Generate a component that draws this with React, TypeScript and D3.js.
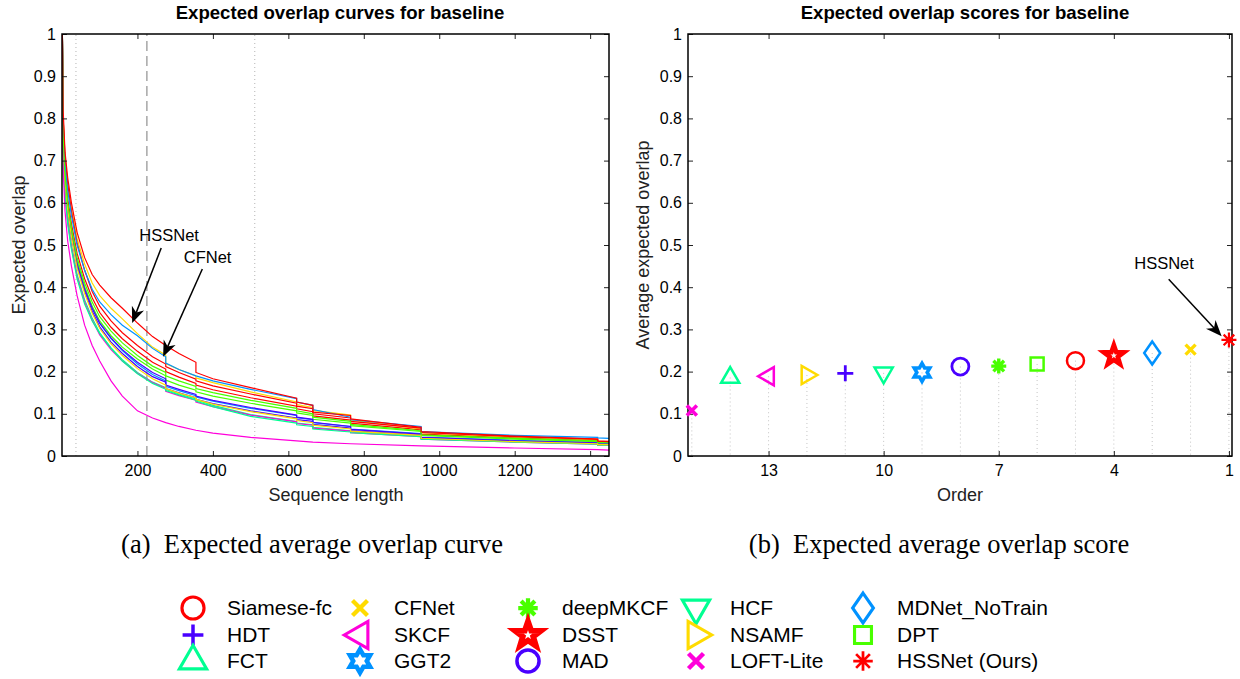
import React, { useEffect, useRef } from 'react'
import * as d3 from 'd3'

// trackers, in legend order (column major, 3 rows)
const trackers = ['Siamese-fc', 'HDT', 'FCT', 'CFNet', 'SKCF', 'GGT2', 'deepMKCF', 'DSST', 'MAD', 'HCF', 'NSAMF', 'LOFT-Lite', 'MDNet_NoTrain', 'DPT', 'HSSNet (Ours)']
const trackerColors = ['#ff0000', '#4900ff', '#00ff92', '#ffdb00', '#ff00db', '#0092ff', '#49ff00', '#ff0000', '#4900ff', '#00ff92', '#ffdb00', '#ff00db', '#0092ff', '#49ff00', '#ff0000']
const trackerMarkers = ['o', '+', '^', 'x', '<', 'h', '*', 'p', 'o', 'v', '>', 'x', 'd', 's', '*']
const markerWidths = [2.5, 2.8, 2.5, 3.4, 2.5, 3.6, 3.4, 4.6, 2.8, 2.5, 2.5, 3.6, 2.5, 2.5, 2.2]

// expected average overlap score and rank (right plot)
const eaoScores = [0.226, 0.196, 0.186, 0.252, 0.189, 0.198, 0.213, 0.238, 0.212, 0.197, 0.192, 0.108, 0.244, 0.218, 0.275]
const eaoRank = [5, 11, 14, 2, 13, 9, 7, 4, 8, 10, 12, 15, 3, 6, 1]

// expected overlap curves (left plot), sampled at these sequence lengths
const seqLength = [1, 3, 8, 15, 25, 40, 60, 80, 100, 130, 160, 200, 240, 275, 275, 310, 355, 355, 400, 500, 622, 622, 665, 665, 765, 765, 952, 952, 1200, 1420, 1420, 1450]
const eoSiameseFc = [1.0, 0.77, 0.67, 0.61, 0.55, 0.48, 0.42, 0.375, 0.34, 0.305, 0.278, 0.248, 0.222, 0.206, 0.2, 0.187, 0.172, 0.168, 0.157, 0.138, 0.118, 0.112, 0.105, 0.095, 0.085, 0.078, 0.062, 0.052, 0.043, 0.037, 0.034, 0.033]
const eoHDT = [1.0, 0.73, 0.64, 0.58, 0.52, 0.45, 0.39, 0.343, 0.306, 0.27, 0.243, 0.212, 0.188, 0.175, 0.16, 0.15, 0.138, 0.134, 0.124, 0.107, 0.09, 0.086, 0.082, 0.075, 0.066, 0.06, 0.05, 0.042, 0.035, 0.03, 0.027, 0.027]
const eoFCT = [1.0, 0.73, 0.63, 0.565, 0.5, 0.43, 0.37, 0.327, 0.292, 0.256, 0.228, 0.198, 0.175, 0.162, 0.158, 0.147, 0.135, 0.133, 0.12, 0.098, 0.082, 0.078, 0.074, 0.068, 0.06, 0.057, 0.048, 0.041, 0.034, 0.029, 0.027, 0.027]
const eoCFNet = [1.0, 0.8, 0.7, 0.64, 0.585, 0.515, 0.455, 0.41, 0.38, 0.35, 0.325, 0.29, 0.258, 0.239, 0.219, 0.205, 0.19, 0.185, 0.174, 0.152, 0.128, 0.122, 0.115, 0.108, 0.097, 0.085, 0.064, 0.055, 0.045, 0.039, 0.034, 0.034]
const eoSKCF = [1.0, 0.72, 0.62, 0.555, 0.495, 0.425, 0.365, 0.322, 0.287, 0.252, 0.225, 0.196, 0.174, 0.16, 0.153, 0.143, 0.132, 0.128, 0.117, 0.097, 0.081, 0.077, 0.073, 0.066, 0.059, 0.055, 0.046, 0.04, 0.033, 0.028, 0.026, 0.026]
const eoGGT2 = [1.0, 0.75, 0.655, 0.59, 0.53, 0.46, 0.4, 0.352, 0.315, 0.278, 0.25, 0.218, 0.193, 0.178, 0.165, 0.155, 0.143, 0.14, 0.13, 0.113, 0.096, 0.091, 0.086, 0.079, 0.07, 0.064, 0.053, 0.045, 0.037, 0.032, 0.029, 0.029]
const eoDeepMKCF = [1.0, 0.76, 0.66, 0.595, 0.535, 0.462, 0.4, 0.355, 0.32, 0.285, 0.258, 0.23, 0.206, 0.19, 0.18, 0.168, 0.156, 0.152, 0.142, 0.125, 0.107, 0.102, 0.096, 0.087, 0.078, 0.072, 0.058, 0.049, 0.04, 0.034, 0.031, 0.031]
const eoDSST = [1.0, 0.8, 0.71, 0.645, 0.58, 0.505, 0.44, 0.39, 0.355, 0.32, 0.292, 0.262, 0.235, 0.218, 0.212, 0.198, 0.182, 0.178, 0.166, 0.147, 0.125, 0.118, 0.112, 0.1, 0.09, 0.082, 0.066, 0.056, 0.046, 0.04, 0.036, 0.035]
const eoMAD = [1.0, 0.74, 0.645, 0.585, 0.525, 0.455, 0.395, 0.35, 0.315, 0.28, 0.252, 0.222, 0.198, 0.183, 0.168, 0.158, 0.146, 0.142, 0.132, 0.115, 0.097, 0.092, 0.087, 0.08, 0.07, 0.063, 0.052, 0.044, 0.036, 0.031, 0.028, 0.028]
const eoHCF = [1.0, 0.72, 0.62, 0.55, 0.49, 0.42, 0.36, 0.32, 0.29, 0.255, 0.225, 0.195, 0.172, 0.158, 0.155, 0.145, 0.132, 0.13, 0.117, 0.094, 0.078, 0.074, 0.07, 0.064, 0.057, 0.055, 0.046, 0.04, 0.033, 0.028, 0.026, 0.026]
const eoNSAMF = [1.0, 0.75, 0.65, 0.585, 0.52, 0.445, 0.385, 0.338, 0.302, 0.266, 0.238, 0.207, 0.183, 0.168, 0.16, 0.149, 0.138, 0.134, 0.123, 0.105, 0.088, 0.084, 0.079, 0.073, 0.064, 0.059, 0.049, 0.042, 0.034, 0.029, 0.027, 0.027]
const eoLOFTLite = [0.9, 0.68, 0.58, 0.51, 0.45, 0.38, 0.31, 0.262, 0.225, 0.178, 0.142, 0.107, 0.09, 0.079, 0.079, 0.07, 0.061, 0.061, 0.054, 0.044, 0.036, 0.036, 0.033, 0.033, 0.029, 0.029, 0.024, 0.024, 0.019, 0.015, 0.015, 0.014]
const eoMDNet = [1.0, 0.79, 0.69, 0.63, 0.57, 0.5, 0.44, 0.395, 0.365, 0.335, 0.31, 0.285, 0.255, 0.235, 0.22, 0.205, 0.19, 0.19, 0.178, 0.158, 0.136, 0.128, 0.12, 0.11, 0.092, 0.086, 0.07, 0.058, 0.049, 0.044, 0.043, 0.042]
const eoDPT = [1.0, 0.76, 0.665, 0.6, 0.54, 0.47, 0.41, 0.365, 0.33, 0.296, 0.268, 0.238, 0.213, 0.198, 0.19, 0.178, 0.165, 0.16, 0.15, 0.132, 0.113, 0.107, 0.1, 0.092, 0.082, 0.075, 0.06, 0.05, 0.042, 0.036, 0.032, 0.032]
const eoHSSNet = [1.0, 0.82, 0.72, 0.66, 0.6, 0.53, 0.47, 0.43, 0.405, 0.375, 0.35, 0.315, 0.283, 0.262, 0.262, 0.243, 0.222, 0.198, 0.183, 0.162, 0.137, 0.128, 0.12, 0.104, 0.096, 0.088, 0.068, 0.058, 0.047, 0.04, 0.035, 0.034]
const eoCurves = [eoSiameseFc, eoHDT, eoFCT, eoCFNet, eoSKCF, eoGGT2, eoDeepMKCF, eoDSST, eoMAD, eoHCF, eoNSAMF, eoLOFTLite, eoMDNet, eoDPT, eoHSSNet]

// ticks
const lengthTicks = [200, 400, 600, 800, 1000, 1200, 1400]
const overlapTicks = [0, 0.1, 0.2, 0.3, 0.4, 0.5, 0.6, 0.7, 0.8, 0.9, 1]
const orderTicks = [13, 10, 7, 4, 1]
// interval lines: low / high bound (dotted) and peak (dashed)
const intervalBounds = [37, 511]
const intervalPeak = 225

const FONT = 'Liberation Sans, Arial, Helvetica, sans-serif'

const markerPath = (m, k) => {
  const deg = Math.PI / 180
  const poly = (pts) => 'M' + pts.map((p) => `${p[0].toFixed(2)},${p[1].toFixed(2)}`).join('L') + 'Z'
  const tri = (angles, r) => poly(angles.map((a) => [r * Math.cos(a * deg), r * Math.sin(a * deg)]))
  const star = (n, R, ratio) => {
    const pts = []
    for (let i = 0; i < 2 * n; i++) {
      const a = (-90 + (i * 180) / n) * deg
      const r = i % 2 === 0 ? R : R * ratio
      pts.push([r * Math.cos(a), r * Math.sin(a)])
    }
    return poly(pts)
  }
  switch (m) {
    case 'o': {
      const r = 8.5 * k
      return `M${r},0A${r},${r} 0 1 1 ${-r},0A${r},${r} 0 1 1 ${r},0Z`
    }
    case '+': {
      const r = 8 * k
      return `M${-r},0H${r}M0,${-r}V${r}`
    }
    case 'x': {
      const r = 5 * k
      return `M${-r},${-r}L${r},${r}M${-r},${r}L${r},${-r}`
    }
    case '*': {
      const r = 7.5 * k
      const d = r * Math.SQRT1_2
      return `M${-r},0H${r}M0,${-r}V${r}M${-d},${-d}L${d},${d}M${-d},${d}L${d},${-d}`
    }
    case 's': {
      const r = 6.5 * k
      return `M${-r},${-r}H${r}V${r}H${-r}Z`
    }
    case 'd': {
      const w = 8 * k
      const h = 11.5 * k
      return `M0,${-h}L${w},0L0,${h}L${-w},0Z`
    }
    case '^':
      return tri([-90, 30, 150], 10.5 * k)
    case 'v':
      return tri([90, 210, 330], 10.5 * k)
    case '<':
      return tri([180, 300, 60], 10.5 * k)
    case '>':
      return tri([0, 120, 240], 10.5 * k)
    case 'p':
      return star(5, 10.5 * k, 0.4)
    case 'h':
      return star(6, 9 * k, 0.577)
    default:
      return ''
  }
}

const drawArrow = (g, x1, y1, x2, y2) => {
  const a = Math.atan2(y2 - y1, x2 - x1)
  const L = 16
  const hw = 6.5
  const c = Math.cos(a)
  const s = Math.sin(a)
  const bx = x2 - L * c
  const by = y2 - L * s
  const nx = x2 - L * 0.7 * c
  const ny = y2 - L * 0.7 * s
  g.append('line')
    .attr('x1', x1)
    .attr('y1', y1)
    .attr('x2', nx)
    .attr('y2', ny)
    .attr('stroke', '#000')
    .attr('stroke-width', 1.5)
  g.append('path')
    .attr('d', `M${x2},${y2}L${bx - hw * s},${by + hw * c}L${nx},${ny}L${bx + hw * s},${by - hw * c}Z`)
    .attr('fill', '#000')
}

const drawFrame = (g, x, y, xTicks, yTicks, xFmt) => {
  const [x0, x1] = x.range()
  const [y0, y1] = y.range()
  const styleAxis = (sel) => {
    sel.select('.domain').remove()
    sel.selectAll('line').attr('stroke', '#222').attr('stroke-width', 1)
    sel.selectAll('text').attr('font-family', FONT).attr('font-size', 16).attr('fill', '#000')
  }
  g.append('g')
    .attr('transform', `translate(0,${y0})`)
    .call(d3.axisBottom(x).tickValues(xTicks).tickSizeInner(-5).tickSizeOuter(0).tickPadding(9).tickFormat(xFmt))
    .call(styleAxis)
  g.append('g')
    .attr('transform', `translate(0,${y1})`)
    .call(d3.axisTop(x).tickValues(xTicks).tickSizeInner(-5).tickSizeOuter(0).tickFormat(() => ''))
    .call(styleAxis)
  g.append('g')
    .attr('transform', `translate(${x0},0)`)
    .call(d3.axisLeft(y).tickValues(yTicks).tickSizeInner(-5).tickSizeOuter(0).tickPadding(6).tickFormat(d3.format('~g')))
    .call(styleAxis)
  g.append('g')
    .attr('transform', `translate(${x1},0)`)
    .call(d3.axisRight(y).tickValues(yTicks).tickSizeInner(-5).tickSizeOuter(0).tickFormat(() => ''))
    .call(styleAxis)
  g.append('rect')
    .attr('x', Math.min(x0, x1))
    .attr('y', y1)
    .attr('width', Math.abs(x1 - x0))
    .attr('height', y0 - y1)
    .attr('fill', 'none')
    .attr('stroke', '#000')
    .attr('stroke-width', 1.5)
}

const App = () => {
  const svgRef = useRef(null)

  useEffect(() => {
    const svg = d3.select(svgRef.current)
    svg.selectAll('*').remove()
    svg.append('rect').attr('width', 1240).attr('height', 679).attr('fill', '#fff')

    // ---------- left: expected overlap curves ----------
    const xL = d3.scaleLinear().domain([0, 1450]).range([62, 609])
    const yL = d3.scaleLinear().domain([0, 1]).range([456, 34])
    const gL = svg.append('g')

    gL.append('clipPath').attr('id', 'clipL').append('rect')
      .attr('x', 62).attr('y', 34).attr('width', 547).attr('height', 422)

    intervalBounds.forEach((v) => {
      gL.append('line')
        .attr('x1', xL(v)).attr('x2', xL(v)).attr('y1', yL(0)).attr('y2', yL(1))
        .attr('stroke', '#b4b4b4').attr('stroke-width', 1).attr('stroke-dasharray', '1,3')
    })
    gL.append('line')
      .attr('x1', xL(intervalPeak)).attr('x2', xL(intervalPeak)).attr('y1', yL(0)).attr('y2', yL(1))
      .attr('stroke', '#a0a0a0').attr('stroke-width', 1.4).attr('stroke-dasharray', '10,5')

    const line = d3.line().x((d) => xL(d[0])).y((d) => yL(d[1]))
    const curveG = gL.append('g').attr('clip-path', 'url(#clipL)')
    eoCurves.forEach((vals, i) => {
      curveG.append('path')
        .attr('d', line(seqLength.map((s, j) => [s, vals[j]])))
        .attr('fill', 'none')
        .attr('stroke', trackerColors[i])
        .attr('stroke-width', 1.2)
    })

    drawFrame(gL, xL, yL, lengthTicks, overlapTicks, d3.format('d'))

    gL.append('text').text('Expected overlap curves for baseline')
      .attr('x', 340).attr('y', 19).attr('text-anchor', 'middle')
      .attr('font-family', FONT).attr('font-size', 18.6).attr('font-weight', 'bold')
    gL.append('text').text('Sequence length')
      .attr('x', 336).attr('y', 501).attr('text-anchor', 'middle')
      .attr('font-family', FONT).attr('font-size', 18).attr('fill', '#222')
    gL.append('text').text('Expected overlap')
      .attr('transform', 'translate(19,245) rotate(-90)').attr('dy', '0.35em').attr('text-anchor', 'middle')
      .attr('font-family', FONT).attr('font-size', 18).attr('fill', '#222')

    // annotations (data units)
    const leftNotes = [
      { label: 'HSSNet', tx: 284, ty: 0.509, from: [263, 0.493], to: [186, 0.315] },
      { label: 'CFNet', tx: 386, ty: 0.457, from: [372, 0.443], to: [268, 0.235] },
    ]
    leftNotes.forEach((n) => {
      gL.append('text').text(n.label)
        .attr('x', xL(n.tx)).attr('y', yL(n.ty)).attr('text-anchor', 'middle')
        .attr('font-family', FONT).attr('font-size', 16.5)
      drawArrow(gL, xL(n.from[0]), yL(n.from[1]), xL(n.to[0]), yL(n.to[1]))
    })

    // ---------- right: expected overlap scores ----------
    const xR = d3.scaleLinear().domain([15.1, 0.92]).range([688, 1232])
    const yR = d3.scaleLinear().domain([0, 1]).range([456, 34])
    const gR = svg.append('g')

    trackers.forEach((t, i) => {
      gR.append('line')
        .attr('x1', xR(eaoRank[i])).attr('x2', xR(eaoRank[i]))
        .attr('y1', yR(eaoScores[i])).attr('y2', yR(0))
        .attr('stroke', '#c4c4c4').attr('stroke-width', 1).attr('stroke-dasharray', '1,3')
    })

    drawFrame(gR, xR, yR, orderTicks, overlapTicks, d3.format('d'))

    trackers.forEach((t, i) => {
      gR.append('path')
        .attr('d', markerPath(trackerMarkers[i], 1))
        .attr('transform', `translate(${xR(eaoRank[i])},${yR(eaoScores[i])})`)
        .attr('fill', 'none')
        .attr('stroke', trackerColors[i])
        .attr('stroke-width', markerWidths[i])
        .attr('stroke-linejoin', 'miter')
    })

    gR.append('text').text('Expected overlap scores for baseline')
      .attr('x', 965).attr('y', 19).attr('text-anchor', 'middle')
      .attr('font-family', FONT).attr('font-size', 18.6).attr('font-weight', 'bold')
    gR.append('text').text('Order')
      .attr('x', 960).attr('y', 501).attr('text-anchor', 'middle')
      .attr('font-family', FONT).attr('font-size', 18).attr('fill', '#222')
    gR.append('text').text('Average expected overlap')
      .attr('transform', 'translate(643,245) rotate(-90)').attr('dy', '0.35em').attr('text-anchor', 'middle')
      .attr('font-family', FONT).attr('font-size', 18).attr('fill', '#222')

    const rightNote = { label: 'HSSNet', tx: 2.69, ty: 0.443, from: [2.57, 0.419], to: [1.19, 0.284] }
    gR.append('text').text(rightNote.label)
      .attr('x', xR(rightNote.tx)).attr('y', yR(rightNote.ty)).attr('text-anchor', 'middle')
      .attr('font-family', FONT).attr('font-size', 16.5)
    drawArrow(gR, xR(rightNote.from[0]), yR(rightNote.from[1]), xR(rightNote.to[0]), yR(rightNote.to[1]))

    // ---------- captions ----------
    const captions = [
      { text: '(a)  Expected average overlap curve', x: 312 },
      { text: '(b)  Expected average overlap score', x: 939 },
    ]
    captions.forEach((c) => {
      svg.append('text').text(c.text)
        .attr('x', c.x).attr('y', 553).attr('text-anchor', 'middle')
        .attr('font-family', 'Liberation Serif, Times New Roman, serif').attr('font-size', 26.5)
        .style('white-space', 'pre')
    })

    // ---------- legend ----------
    const colMarkX = [193, 360, 528, 696, 863]
    const rowY = [608, 635, 661]
    const legend = svg.append('g')
    trackers.forEach((t, i) => {
      const col = Math.floor(i / 3)
      const row = i % 3
      const m = trackerMarkers[i]
      const k = '^v<>x'.includes(m) ? 1.5 : 1.3
      legend.append('path')
        .attr('d', markerPath(m, k))
        .attr('transform', `translate(${colMarkX[col]},${rowY[row]})`)
        .attr('fill', 'none')
        .attr('stroke', trackerColors[i])
        .attr('stroke-width', markerWidths[i] * 1.25)
      legend.append('text').text(t)
        .attr('x', colMarkX[col] + 34).attr('y', rowY[row]).attr('dy', '0.35em')
        .attr('font-family', FONT).attr('font-size', 21)
    })
  }, [])

  return <svg ref={svgRef} width={1240} height={679} style={{ position: 'absolute', left: 0, top: 0 }}></svg>
}

export default App
